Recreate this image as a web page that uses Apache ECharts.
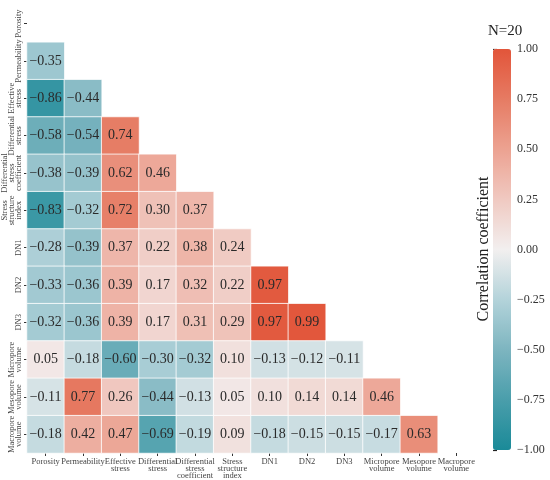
<!DOCTYPE html>
<html><head><meta charset="utf-8">
<script src="https://cdn.jsdelivr.net/npm/echarts@6/dist/echarts.min.js"></script>
<style>html,body{margin:0;padding:0;background:#fff}#c{width:550px;height:480px}</style>
</head><body><div id="c"></div>
<script>
var categories = ["Porosity","Permeability","Effective\nstress","Differential\nstress","Differential\nstress\ncoefficient","Stress\nstructure\nindex","DN1","DN2","DN3","Micropore\nvolume","Mesopore\nvolume","Macropore\nvolume"];
// lower-triangle rows (row i holds correlations with columns 0..i-1)
var rows = [
  [],
  [-0.35],
  [-0.86,-0.44],
  [-0.58,-0.54,0.74],
  [-0.38,-0.39,0.62,0.46],
  [-0.83,-0.32,0.72,0.30,0.37],
  [-0.28,-0.39,0.37,0.22,0.38,0.24],
  [-0.33,-0.36,0.39,0.17,0.32,0.22,0.97],
  [-0.32,-0.36,0.39,0.17,0.31,0.29,0.97,0.99],
  [0.05,-0.18,-0.60,-0.30,-0.32,0.10,-0.13,-0.12,-0.11],
  [-0.11,0.77,0.26,-0.44,-0.13,0.05,0.10,0.14,0.14,0.46],
  [-0.18,0.42,0.47,-0.69,-0.19,0.09,-0.18,-0.15,-0.15,-0.17,0.63]
];
var colorbarTicks = [-1,-0.75,-0.5,-0.25,0,0.25,0.5,0.75,1];
var colorStops = ['#1a8a98','#4a9eab','#7db5c0','#b3d3da','#f2efef','#f0c9c1','#eca291','#e67b63','#e2553a'];

var data = [];
rows.forEach(function(r, i){ r.forEach(function(v, j){ data.push([j, i, v]); }); });
function fmt(v){ var s = Math.abs(v).toFixed(2); return (v < 0 ? '\u2212' : '') + s; }

var F = 'Liberation Serif';
var chart = echarts.init(document.getElementById('c'));
chart.setOption({
  animation:false,
  textStyle:{fontFamily:F},
  grid:[
    {left:27, top:5, width:448, height:448},
    {left:493, top:49, width:18, height:401}
  ],
  xAxis:[
    {type:'category', data:categories, gridIndex:0, axisLine:{show:false}, splitLine:{show:false},
     axisTick:{show:true, alignWithLabel:true, length:3, lineStyle:{color:'#333'}},
     axisLabel:{interval:0, fontFamily:F, fontSize:8.5, lineHeight:7, color:'#444', margin:5}},
    {type:'value', gridIndex:1, show:false, min:0, max:1}
  ],
  yAxis:[
    {type:'category', data:categories, inverse:true, gridIndex:0, axisLine:{show:false}, splitLine:{show:false},
     axisTick:{show:true, alignWithLabel:true, length:3, lineStyle:{color:'#333'}},
     axisLabel:{interval:0, rotate:90, fontFamily:F, fontSize:8.5, lineHeight:7, color:'#444', margin:5}},
    {type:'value', gridIndex:1, position:'right', min:-1, max:1, interval:0.25,
     axisLine:{show:false}, splitLine:{show:false},
     axisTick:{show:true, inside:false, length:4, lineStyle:{color:'#222', width:1.2}},
     axisLabel:{fontFamily:F, fontSize:12, color:'#333', margin:6, formatter:function(v){return fmt(v);}}}
  ],
  visualMap:{
    type:'continuous', min:-1, max:1, show:true, calculable:false, seriesIndex:0,
    left:493, top:49, itemWidth:18, itemHeight:401, padding:0, text:null,
    inRange:{color:colorStops}, textStyle:{color:'transparent'}, hoverLink:false
  },
  graphic:[
    {type:'text', left:488, top:24, style:{text:'N=20', font:'15px "Liberation Serif"', fill:'#222'}},
    {type:'text', x:484, y:249, rotation:Math.PI/2,
     style:{text:'Correlation coefficient', font:'16px "Liberation Serif"', fill:'#222', align:'center', verticalAlign:'middle'}}
  ],
  series:[{
    type:'heatmap', xAxisIndex:0, yAxisIndex:0, data:data,
    itemStyle:{borderColor:'#ffffff', borderWidth:0.8},
    label:{show:true, fontFamily:F, fontSize:14, color:'#2a2a2a', formatter:function(p){return fmt(p.value[2]);}},
    emphasis:{disabled:true}
  }]
});
</script></body></html>
